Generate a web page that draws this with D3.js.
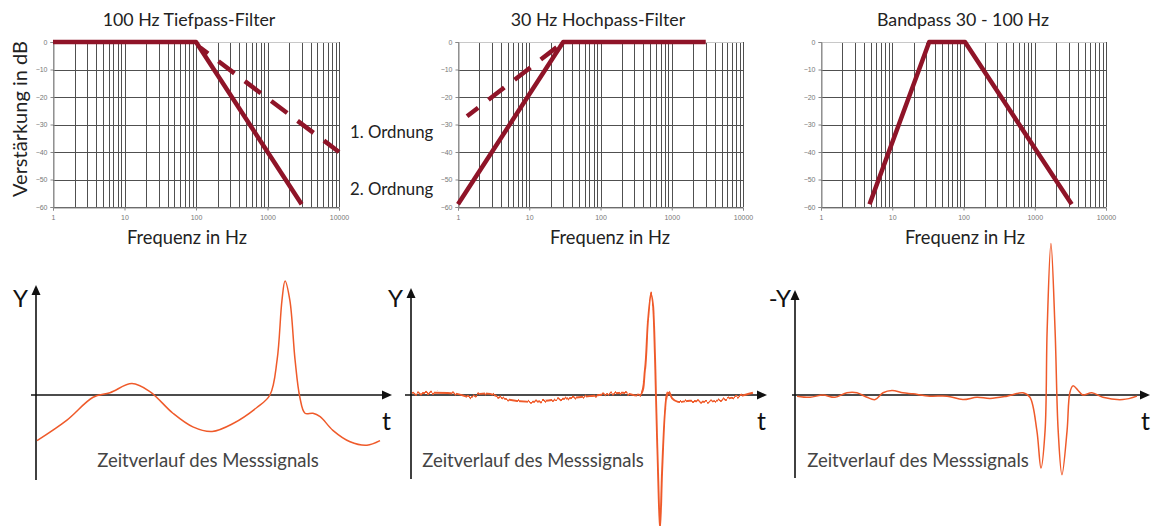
<!DOCTYPE html>
<html><head><meta charset="utf-8">
<script src="https://cdn.jsdelivr.net/npm/d3@7"></script>
<style>
html,body{margin:0;padding:0;background:#fff;}
svg{display:block;}
text{font-family:Lato,"Open Sans",sans-serif;}
</style></head>
<body>
<svg id="c" width="1152" height="526"></svg>
<script>
// ---------- data ----------
const freqTickLabels = [1, 10, 100, 1000, 10000];
const dbTicks = [0, -10, -20, -30, -40, -50, -60];

// Frequency responses [Hz, dB]
const lowpass2nd = [[1, 0], [100, 0], [3000, -59]];
const lowpass1st = [[114, -2], [10000, -40]];
const highpass2nd = [[1, -59], [30, 0], [3000, 0]];
const highpass1st = [[1.34, -27], [27, -1]];
const bandpass = [[4.8, -59], [33, 0], [105, 0], [3300, -59]];

const titles = ["100 Hz Tiefpass-Filter", "30 Hz Hochpass-Filter", "Bandpass 30 - 100 Hz"];

// Time signals [t (0..1000), relative amplitude]
const signalRaw = [
  [3,-40],[90,-22],[166,-2],[215,2],[279,10],[331,3],[398,-16],[456,-28],[512,-32],
  [573,-25],[642,-11],[680,0],[701,31],[715,83],[724,100],[738,83],[753,31],[767,-2],
  [782,-16],[805,-16],[826,-19],[863,-31],[913,-41],[962,-44],[1000,-40]
];
const signalHighpass = [
  [3,1],[64,2],[134,1],[172,-2],[201,1],[230,1],[267,-3],[346,-6],[424,-4],[520,-1],
  [616,2],[666,0],[680,22],[689,66],[698,89],[703,81],[709,37],[712,0],[718,-66],
  [724,-118],[730,-66],[738,-16],[744,0],[750,3],[759,-3],[776,-6],[811,-5],[860,-6],
  [907,-4],[956,-1],[994,2]
];
const signalBandpass = [
  [6,-1],[44,-2],[81,0],[116,-2],[151,2],[180,2],[209,-2],[233,-4],[256,2],[282,4],
  [314,2],[343,1],[392,-1],[442,-1],[488,-4],[529,-2],[567,-3],[616,-1],[663,2],[683,-2],
  [703,-31],[715,-64],[727,-31],[733,57],[744,133],[756,57],[765,-31],[776,-70],[791,-31],
  [799,2],[808,8],[823,4],[837,0],[863,2],[895,-2],[953,-4],[994,-1]
];
const yLabels = ["Y", "Y", "-Y"];
const bottomCaption = "Zeitverlauf des Messsignals";

// ---------- drawing ----------
const svg = d3.select("#c");
const defs = svg.append("defs");
const flt = defs.append("filter").attr("id","ripple")
  .attr("x","-2%").attr("y","-10%").attr("width","104%").attr("height","120%");
flt.append("feTurbulence").attr("type","fractalNoise").attr("baseFrequency","0.4 0.01")
  .attr("numOctaves",1).attr("seed",4).attr("result","n");
flt.append("feColorMatrix").attr("in","n").attr("type","matrix")
  .attr("values","1 0 0 0 0  0 0 0 0 0.5  0 0 0 0 0  0 0 0 0 1").attr("result","m");
flt.append("feDisplacementMap").attr("in","SourceGraphic").attr("in2","m")
  .attr("scale",6).attr("xChannelSelector","G").attr("yChannelSelector","R");

const red = "#8f1428";
const topPanels = [
  {x0:53, x1:339, cx:189, fx:187, solid:lowpass2nd, dashed:lowpass1st},
  {x0:458, x1:743, cx:598, fx:610, solid:highpass2nd, dashed:highpass1st},
  {x0:821, x1:1106, cx:963, fx:965, solid:bandpass, dashed:null}
];
const yTop = 42, yBot = 207;

topPanels.forEach((p, i) => {
  const x = d3.scaleLog().domain([1, 10000]).range([p.x0, p.x1]);
  const y = d3.scaleLinear().domain([-60, 0]).range([yBot, yTop]);
  const g = svg.append("g");
  g.selectAll("line.v").data(x.ticks()).join("line")
    .attr("x1", d => Math.round(x(d)) + 0.5).attr("x2", d => Math.round(x(d)) + 0.5)
    .attr("y1", yTop).attr("y2", yBot)
    .attr("stroke", d => d === 1 ? "#999" : "#505050").attr("stroke-width", 1);
  g.selectAll("line.h").data(dbTicks).join("line")
    .attr("x1", p.x0).attr("x2", p.x1)
    .attr("y1", d => Math.round(y(d)) + 0.5).attr("y2", d => Math.round(y(d)) + 0.5)
    .attr("stroke", d => d === 0 ? "#c8c8c8" : "#505050").attr("stroke-width", 1);
  const ya = g.append("g").attr("transform", `translate(${p.x0 + 0.5},0)`)
    .call(d3.axisLeft(y).tickValues(dbTicks).tickSize(3).tickPadding(3));
  const xa = g.append("g").attr("transform", `translate(0,${yBot + 0.5})`)
    .call(d3.axisBottom(x).tickValues(freqTickLabels).tickFormat(d3.format("d")).tickSize(3).tickPadding(5));
  [ya, xa].forEach(a => {
    a.select(".domain").attr("stroke", "#888");
    a.selectAll(".tick line").attr("stroke", "#888");
    a.selectAll(".tick text").attr("fill", "#777").style("font-family", "'Liberation Sans',sans-serif").style("font-size", "7px");
  });
  const line = d3.line().x(d => x(d[0])).y(d => y(d[1]));
  g.append("path").attr("d", line(p.solid)).attr("fill", "none").attr("stroke", red)
    .attr("stroke-width", 4.5).attr("stroke-linejoin", "round");
  if (p.dashed) {
    g.append("path").attr("d", line(p.dashed)).attr("fill", "none").attr("stroke", red)
      .attr("stroke-width", 4.5).attr("stroke-dasharray", "20,13").attr("stroke-dashoffset", i === 0 ? 10 : 6);
  }
  svg.append("text").attr("x", p.cx).attr("y", 26).attr("text-anchor", "middle")
    .attr("fill", "#222").style("font-size", "17.8px").text(titles[i]);
  svg.append("text").attr("x", p.fx).attr("y", 244).attr("text-anchor", "middle")
    .attr("fill", "#222").style("font-size", "18.3px").text("Frequenz in Hz");
});
svg.append("text").attr("transform", "translate(27,119) rotate(-90)").attr("text-anchor", "middle")
  .attr("fill", "#222").style("font-size", "20px").text("Verstärkung in dB");
svg.append("text").attr("x", 350).attr("y", 138).attr("fill", "#222").style("font-size", "16.8px").text("1. Ordnung");
svg.append("text").attr("x", 350).attr("y", 195).attr("fill", "#222").style("font-size", "16.8px").text("2. Ordnung");

const bottomPanels = [
  {ax:36, axL:31, axR:392, top:285, bot:480, data:signalRaw, yl:28, tx:382, cap:208, ripple:false},
  {ax:411, axL:405, axR:767, top:288, bot:479, data:signalHighpass, yl:403, tx:757, cap:533, ripple:true},
  {ax:795, axL:792, axR:1150, top:290, bot:478, data:signalBandpass, yl:791, tx:1141, cap:918, ripple:false}
];
const y0 = 395;
bottomPanels.forEach((p, i) => {
  const x = d3.scaleLinear().domain([0, 1000]).range([p.ax, p.ax + 344]);
  const y = d3.scaleLinear().domain([-100, 100]).range([y0 + 114, y0 - 114]);
  const g = svg.append("g");
  g.append("line").attr("x1", p.ax).attr("x2", p.ax).attr("y1", p.bot).attr("y2", p.top + 6)
    .attr("stroke", "#111").attr("stroke-width", 1.6);
  g.append("path").attr("d", `M${p.ax},${p.top} L${p.ax - 4.5},${p.top + 10} L${p.ax + 4.5},${p.top + 10} Z`).attr("fill", "#111");
  g.append("line").attr("x1", p.axL).attr("x2", p.axR - 6).attr("y1", y0).attr("y2", y0)
    .attr("stroke", "#111").attr("stroke-width", 1.6);
  g.append("path").attr("d", `M${p.axR},${y0} L${p.axR - 10},${y0 - 4.5} L${p.axR - 10},${y0 + 4.5} Z`).attr("fill", "#111");
  const line = d3.line().x(d => x(d[0])).y(d => y(d[1])).curve(d3.curveCatmullRom.alpha(0.5));
  const path = g.append("path").attr("d", line(p.data)).attr("fill", "none")
    .attr("stroke", "#ef5a2a").attr("stroke-width", 1.5).attr("stroke-linejoin", "round");
  if (p.ripple) path.attr("filter", "url(#ripple)").attr("stroke-width", 1.9);
  svg.append("text").attr("x", p.yl).attr("y", 307).attr("text-anchor", "end")
    .attr("fill", "#111").style("font-size", "24px").text(yLabels[i]);
  svg.append("text").attr("x", p.tx).attr("y", 430)
    .attr("fill", "#111").style("font-size", "25px").text("t");
  svg.append("text").attr("x", p.cap).attr("y", 467).attr("text-anchor", "middle")
    .attr("fill", "#444").style("font-size", "18.5px").text(bottomCaption);
});
</script>
</body></html>
